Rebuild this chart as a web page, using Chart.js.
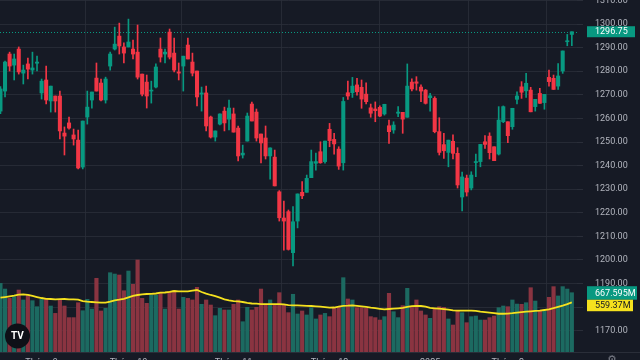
<!DOCTYPE html>
<html><head><meta charset="utf-8">
<script src="https://cdn.jsdelivr.net/npm/chart.js@4.4.1/dist/chart.umd.min.js"></script>
<style>html,body{margin:0;padding:0;background:#161a25;overflow:hidden}#wrap{width:640px;height:360px;position:relative}canvas{display:block}</style>
</head><body><div id="wrap"><canvas id="c" width="640" height="360"></canvas></div>
<script>
// ---- data (VN-Index daily) ----
const opens  = [1263.1,1271.6,1287.3,1282.6,1289.4,1279.2,1283.1,1280.5,1283.4,1270.8,1276.3,1267.4,1269.5,1269.5,1253.8,1258.1,1253.0,1250.8,1239.4,1260.6,1267.8,1277.1,1275.0,1267.8,1282.2,1289.4,1294.9,1290.3,1290.3,1289.4,1288.1,1278.8,1275.4,1271.6,1273.3,1289.4,1287.3,1296.6,1287.7,1279.7,1282.2,1291.1,1283.9,1280.1,1270.3,1270.8,1260.6,1252.1,1257.6,1263.1,1259.7,1261.9,1255.9,1244.5,1250.4,1266.1,1262.7,1253.4,1251.7,1244.1,1243.6,1228.9,1217.8,1220.5,1203.1,1216.5,1228.7,1228.7,1234.9,1241.0,1245.9,1241.7,1255.4,1251.1,1247.0,1241.2,1270.9,1270.9,1274.2,1273.2,1270.3,1264.5,1264.0,1264.7,1261.9,1256.9,1255.1,1262.2,1262.6,1260.5,1275.4,1275.5,1273.3,1272.0,1268.8,1268.5,1254.4,1248.9,1245.6,1250.3,1245.2,1226.7,1234.7,1230.5,1241.3,1241.7,1250.1,1252.5,1248.0,1244.9,1258.6,1258.6,1256.5,1268.1,1273.4,1271.7,1272.0,1265.0,1270.6,1266.7,1277.4,1277.0,1273.7,1280.1,1292.5,1295.6];
const highs  = [1273.5,1284.3,1288.1,1287.3,1290.3,1282.6,1285.6,1288.1,1286.4,1276.7,1282.2,1273.7,1269.5,1271.6,1256.4,1260.6,1255.5,1255.1,1258.9,1271.6,1271.2,1283.5,1276.7,1277.5,1288.1,1298.7,1300.4,1292.0,1302.1,1293.2,1299.6,1278.8,1278.4,1275.8,1283.1,1294.1,1289.4,1297.9,1294.1,1283.5,1286.4,1294.1,1287.7,1280.1,1273.3,1273.7,1261.0,1254.7,1261.9,1264.8,1267.8,1264.4,1256.8,1248.7,1262.3,1266.9,1264.0,1253.4,1256.8,1247.5,1246.6,1229.4,1225.0,1221.2,1222.6,1228.0,1233.2,1236.0,1246.6,1245.3,1250.1,1250.4,1257.9,1253.7,1248.0,1268.9,1275.8,1277.4,1277.0,1276.3,1275.1,1266.1,1267.0,1265.3,1266.0,1259.3,1258.6,1265.0,1262.6,1283.1,1276.8,1277.7,1274.2,1272.3,1270.6,1269.2,1260.3,1253.7,1250.8,1253.0,1247.6,1237.3,1236.0,1237.4,1244.9,1249.0,1252.7,1253.9,1248.0,1265.0,1265.3,1258.6,1264.3,1271.3,1275.6,1279.1,1273.2,1268.1,1272.8,1270.2,1280.5,1278.4,1283.3,1288.6,1295.6,1296.75];
const lows   = [1262.0,1269.1,1280.1,1276.3,1278.8,1274.6,1276.7,1278.8,1280.1,1268.2,1266.1,1262.7,1262.7,1251.3,1244.5,1255.5,1248.7,1238.6,1238.6,1257.6,1264.4,1271.6,1267.4,1266.5,1280.5,1289.0,1287.3,1283.5,1290.3,1285.2,1276.7,1269.5,1264.4,1266.5,1272.9,1283.9,1283.5,1285.2,1279.7,1276.3,1271.6,1285.2,1278.0,1265.3,1263.1,1254.7,1251.7,1250.4,1257.2,1254.7,1255.1,1254.2,1242.0,1243.2,1250.4,1258.9,1250.4,1241.1,1242.8,1234.3,1231.4,1216.5,1204.2,1204.2,1197.5,1213.6,1226.0,1228.7,1234.9,1238.1,1241.0,1241.0,1248.0,1244.8,1238.4,1238.1,1268.1,1268.9,1269.9,1264.3,1266.1,1260.5,1258.6,1260.7,1261.4,1249.4,1253.7,1260.7,1253.7,1260.5,1271.7,1272.0,1267.1,1266.1,1263.1,1253.9,1244.5,1243.1,1239.5,1242.8,1230.5,1220.8,1227.1,1229.7,1235.3,1239.5,1247.3,1242.8,1242.1,1244.5,1258.2,1249.7,1255.4,1266.1,1268.5,1268.9,1262.8,1263.1,1266.4,1263.9,1273.7,1272.3,1272.3,1279.1,1290.8,1290.8];
const closes = [1272.5,1283.9,1282.2,1285.2,1279.7,1280.5,1280.9,1281.4,1283.9,1275.8,1267.8,1273.7,1267.4,1254.7,1252.5,1255.9,1251.3,1239.0,1258.9,1264.8,1271.2,1271.6,1267.8,1276.7,1287.3,1291.5,1290.7,1287.7,1292.4,1287.3,1277.5,1270.3,1269.5,1272.0,1281.8,1286.0,1288.1,1286.0,1280.5,1279.2,1286.4,1285.2,1279.2,1269.1,1270.8,1256.8,1252.1,1254.7,1261.9,1258.1,1264.4,1254.2,1244.1,1245.3,1261.0,1258.9,1251.7,1249.6,1244.1,1247.5,1231.4,1217.9,1216.5,1204.5,1216.2,1228.0,1227.2,1234.6,1241.7,1241.7,1241.2,1250.4,1250.6,1249.2,1239.8,1267.2,1269.5,1273.7,1271.3,1268.2,1267.1,1262.2,1263.3,1261.0,1266.0,1254.4,1257.2,1262.7,1259.7,1273.7,1272.5,1274.9,1271.6,1266.4,1269.6,1254.4,1245.6,1246.3,1250.8,1245.2,1231.8,1235.2,1228.8,1236.0,1241.7,1249.0,1249.0,1245.5,1242.1,1259.3,1265.0,1252.7,1264.3,1269.5,1271.1,1274.9,1262.8,1268.1,1266.4,1270.2,1275.6,1272.3,1278.0,1288.6,1292.8,1296.75];
// volume in millions of shares
const volumes = [773,709,604,623,698,586,642,578,510,593,593,518,435,586,518,387,387,555,465,593,484,830,462,492,893,878,867,690,912,762,1036,604,548,642,642,661,484,679,690,484,616,604,586,728,537,586,529,409,492,473,473,537,586,341,503,473,503,709,540,586,529,668,529,443,650,428,462,417,499,372,417,435,398,492,503,837,597,586,499,499,492,398,387,360,398,661,454,387,522,717,503,586,462,417,379,492,510,503,372,304,462,443,330,398,405,360,360,387,405,499,518,510,586,540,537,555,724,574,462,462,616,736,631,736,709,667.595];
// 20-bar volume moving average
const volumeMA = [612,619,627,634,646,648,644,631,619,608,599,597,593,595,597,593,593,589,574,567,563,559,555,555,567,582,589,599,616,633,642,649,653,655,659,668,670,676,687,683,683,683,690,698,676,657,642,629,612,593,582,574,569,563,552,546,544,540,540,540,540,540,537,529,526,524,522,520,518,514,510,505,499,501,510,520,522,526,520,514,507,499,493,486,480,484,488,492,497,507,516,518,518,510,497,492,488,484,477,469,467,465,465,465,462,454,448,443,437,431,431,433,437,443,448,454,458,462,465,473,480,493,507,522,540,559.37];
const monthTickIdx = [9,28,51,72,94,111];
const monthLabels  = ['Tháng 9','Tháng 10','Tháng 11','Tháng 12','2025','Tháng 2'];
const priceTicks   = [1170,1180,1190,1200,1210,1220,1230,1240,1250,1260,1270,1280,1290,1300,1310];

// ---- styles ----
const BG='#161a25', GRID='rgba(42,46,57,0.8)', TXT='#b2b5be';
const UP='#089981', DN='#f23645', VUP='#1c6a61', VDN='#8a3441', MAC='#f5e11e';
const FONT={family:'Roboto', size:9};

const idx = closes.map((_,i)=>i);
const isUp = idx.map(i=>closes[i]>=opens[i]);
const last = closes.length-1;

const bgPlugin = {
  id:'bg',
  beforeDraw(chart){
    const c=chart.ctx; c.save(); c.fillStyle=BG; c.fillRect(0,0,chart.width,chart.height); c.restore();
  },
  beforeDatasetsDraw(chart){
    const c=chart.ctx, a=chart.chartArea, y=chart.scales.y.getPixelForValue(closes[last]);
    c.save(); c.strokeStyle=UP; c.lineWidth=1; c.setLineDash([1,2]);
    c.beginPath(); c.moveTo(a.left,Math.round(y)+0.5); c.lineTo(a.right,Math.round(y)+0.5); c.stroke(); c.restore();
  },
  afterDraw(chart){
    const c=chart.ctx, a=chart.chartArea, ys=chart.scales.y, yv=chart.scales.yv;
    c.save();
    // time-axis separator
    c.fillStyle='#2a2e39'; c.fillRect(0,Math.round(a.bottom),chart.width,1);
    // last price label
    const py=ys.getPixelForValue(closes[last]);
    c.fillStyle=UP; c.fillRect(587,py-5.5,48,11);
    c.font='9px Roboto'; c.textBaseline='middle'; c.textAlign='left';
    c.fillStyle='#ffffff'; c.fillText(closes[last].toFixed(2),595,py+0.5);
    // volume labels
    const vy=yv.getPixelForValue(volumes[last]);
    const gTop=vy-6.5, gH=13.5;
    c.fillStyle=UP; c.fillRect(587,gTop,50,gH);
    c.fillStyle='#ffffff'; c.fillText(volumes[last].toFixed(3)+'M',595,gTop+gH/2+0.5);
    const yTop=gTop+gH, yH=11.5;
    c.fillStyle=MAC; c.fillRect(587,yTop,46,yH);
    c.fillStyle='#131722'; c.fillText(volumeMA[last].toFixed(2)+'M',595,yTop+yH/2+0.5);
    // logo
    c.fillStyle='#0e1017'; c.beginPath(); c.arc(17.5,336,12.5,0,Math.PI*2); c.fill();
    c.fillStyle='#ffffff'; c.font='bold 10px Roboto'; c.textAlign='center'; c.fillText('TV',17.5,336.5);
    // settings glyph
    c.fillStyle='#787b86'; c.font='11px "DejaVu Sans"'; c.textBaseline='top'; c.fillText('⚙',612,355);
    c.restore();
  }
};

new Chart(document.getElementById('c'), {
  type:'bar',
  data:{ datasets:[
    { label:'body', yAxisID:'y', order:0, grouped:false, barThickness:3.4, minBarLength:1,
      data: idx.map(i=>({x:i, y:[opens[i],closes[i]]})),
      backgroundColor: idx.map(i=>isUp[i]?UP:DN) },
    { label:'wick', yAxisID:'y', order:1, grouped:false, barThickness:1,
      data: idx.map(i=>({x:i, y:[lows[i],highs[i]]})),
      backgroundColor: idx.map(i=>isUp[i]?UP:DN) },
    { type:'line', label:'volMA', yAxisID:'yv', order:2,
      data: idx.map(i=>({x:i, y:volumeMA[i]})),
      borderColor:MAC, borderWidth:1.8, pointRadius:0, tension:0, fill:false },
    { label:'volume', yAxisID:'yv', order:3, grouped:false, barThickness:3.5,
      data: idx.map(i=>({x:i, y:volumes[i]})),
      backgroundColor: idx.map(i=>isUp[i]?VUP:VDN) }
  ]},
  options:{
    responsive:false, animation:false, events:[],
    layout:{padding:0},
    plugins:{legend:{display:false}, tooltip:{enabled:false}},
    scales:{
      x:{ type:'linear', min:-0.1, max:126.13, offset:false, position:'bottom',
          grid:{color:GRID, drawTicks:false}, border:{display:false},
          afterBuildTicks:s=>{ s.ticks = monthTickIdx.map(v=>({value:v})); },
          afterFit:s=>{ s.height=8; s.paddingLeft=0; s.paddingRight=0; },
          ticks:{ autoSkip:false, maxRotation:0, padding:5, color:TXT, font:FONT,
                  callback:(v,i)=>monthLabels[i] } },
      y:{ type:'linear', position:'right', min:1161.0, max:1310.2,
          grid:{color:GRID, drawTicks:true, tickLength:6, tickColor:'#2a2e39'}, border:{display:false},
          afterBuildTicks:s=>{ s.ticks = priceTicks.map(v=>({value:v})); },
          afterFit:s=>{ s.width=63; s.paddingTop=0; s.paddingBottom=0; },
          ticks:{ autoSkip:false, padding:12, color:TXT, font:FONT, callback:v=>v.toFixed(2) } },
      yv:{ type:'linear', display:false, min:0, max:3964 }
    }
  },
  plugins:[bgPlugin]
});
</script></body></html>
